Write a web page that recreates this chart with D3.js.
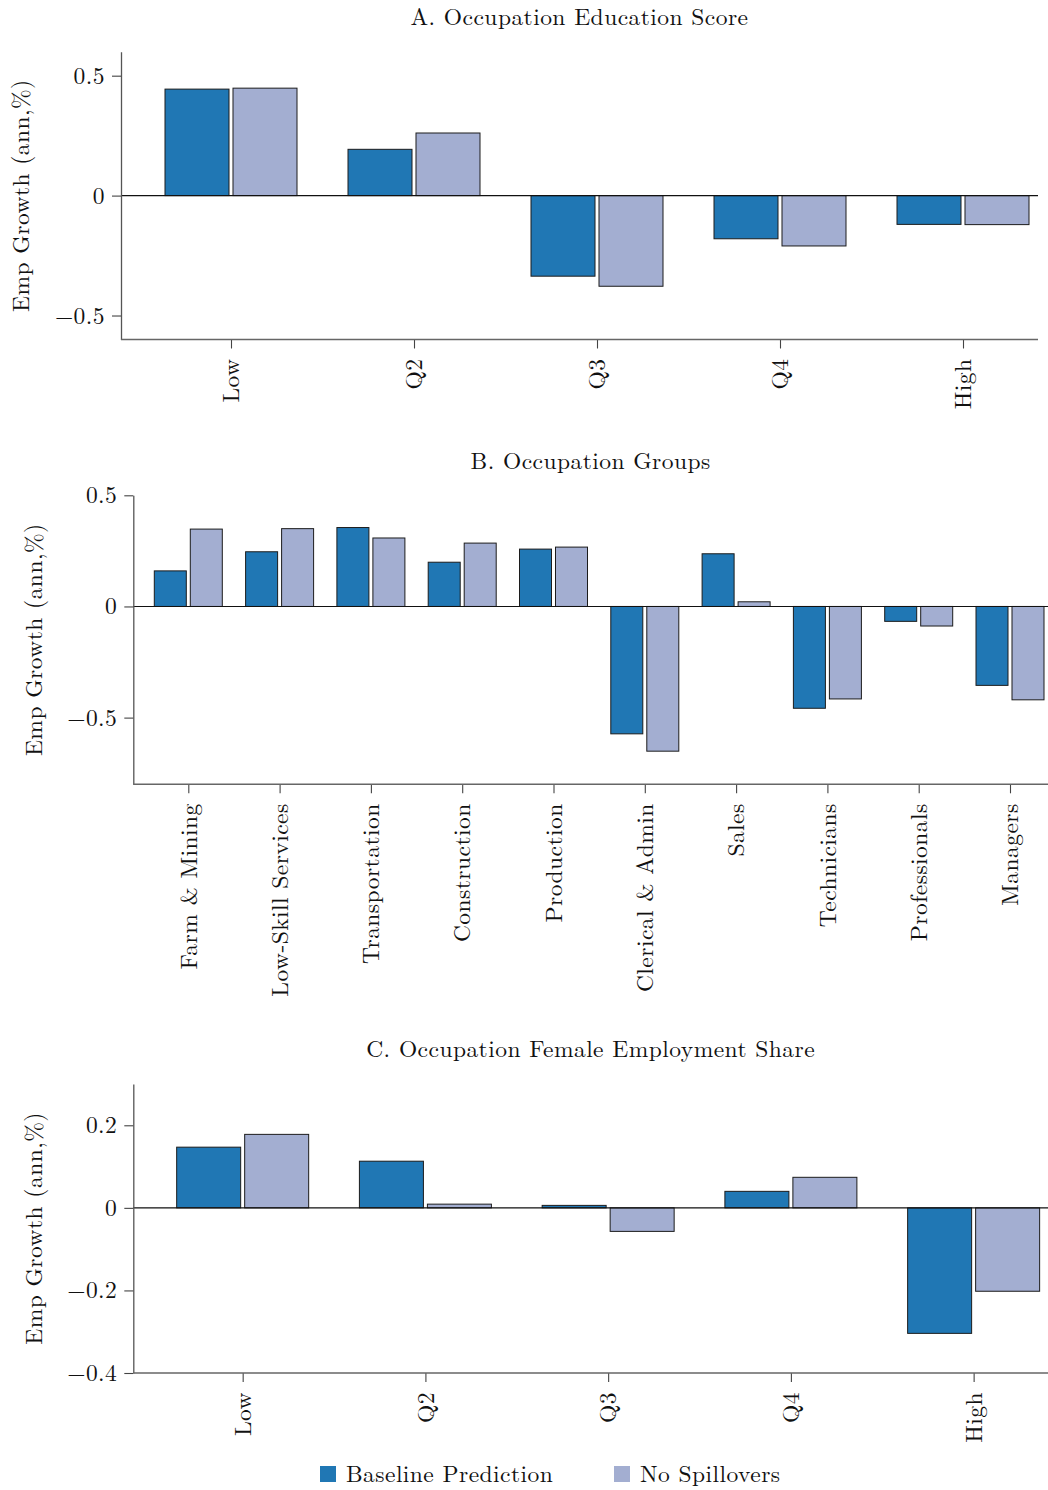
<!DOCTYPE html>
<html>
<head>
<meta charset="utf-8">
<script src="https://cdn.jsdelivr.net/npm/d3@7"></script>
<style>
  html, body { margin: 0; padding: 0; background: #fff; }
  svg text { font-family: "Latin Modern Roman", "CMU Serif", "Liberation Serif", serif; fill: #111; letter-spacing: 0.45px; }
</style>
</head>
<body>
<svg id="chart" width="1048" height="1490"></svg>
<script>
// Series shown in every panel
const seriesNames = ["Baseline Prediction", "No Spillovers"];
const seriesColors = ["#2077b4", "#a3aed1"];

// Panel A: occupation education score quintiles
const eduCats = ["Low", "Q2", "Q3", "Q4", "High"];
const eduBaseline = [0.444, 0.193, -0.336, -0.180, -0.120];
const eduNoSpill = [0.448, 0.261, -0.378, -0.210, -0.121];
const eduTicks = [-0.5, 0, 0.5];

// Panel B: broad occupation groups
const groupCats = ["Farm & Mining", "Low-Skill Services", "Transportation", "Construction",
  "Production", "Clerical & Admin", "Sales", "Technicians", "Professionals", "Managers"];
const groupBaseline = [0.160, 0.246, 0.355, 0.199, 0.258, -0.573, 0.237, -0.458, -0.067, -0.355];
const groupNoSpill = [0.348, 0.350, 0.308, 0.285, 0.267, -0.651, 0.021, -0.416, -0.088, -0.420];
const groupTicks = [-0.5, 0, 0.5];

// Panel C: occupation female employment share quintiles
const femCats = ["Low", "Q2", "Q3", "Q4", "High"];
const femBaseline = [0.147, 0.113, 0.006, 0.040, -0.304];
const femNoSpill = [0.178, 0.009, -0.057, 0.074, -0.202];
const femTicks = [-0.4, -0.2, 0, 0.2];

const FONT = 23.5;
const svg = d3.select("#chart");
const fmtTick = d => d === 0 ? "0" : d3.format(".1f")(d);

function drawPanel(p) {
  const g = svg.append("g");
  const rows = p.cats.map((c, i) => ({ cat: c, values: [p.base[i], p.nospill[i]] }));

  const x = d3.scaleBand().domain(p.cats).range(p.xRange).paddingInner(0).paddingOuter(0);
  const inner = d3.scaleBand().domain(seriesNames)
    .range([-p.half, p.half]).paddingInner(p.innerPad);
  const y = d3.scaleLinear().domain(p.yDomain).range([p.yBottom, p.yTop]);
  const cx = c => x(c) + x.bandwidth() / 2;

  // bars
  rows.forEach(r => {
    r.values.forEach((v, k) => {
      g.append("rect")
        .attr("x", cx(r.cat) + inner(seriesNames[k]))
        .attr("width", inner.bandwidth())
        .attr("y", y(Math.max(0, v)))
        .attr("height", Math.abs(y(v) - y(0)))
        .attr("fill", seriesColors[k])
        .attr("stroke", "#1c1c1c")
        .attr("stroke-width", 1);
    });
  });

  // zero reference line
  g.append("line")
    .attr("x1", p.axisX).attr("x2", p.axisRight)
    .attr("y1", y(0)).attr("y2", y(0))
    .attr("stroke", "#111").attr("stroke-width", 1.1);

  // y axis
  const yAxis = g.append("g")
    .attr("transform", `translate(${p.axisX},0)`)
    .call(d3.axisLeft(y).tickValues(p.yTicks).tickFormat(fmtTick).tickSize(9).tickPadding(7).tickSizeOuter(0));
  yAxis.select(".domain").attr("stroke", "#555").attr("stroke-width", 1.3);
  yAxis.selectAll(".tick line").attr("stroke", "#444").attr("stroke-width", 1.1);
  yAxis.selectAll(".tick text").style("font-size", FONT + "px").attr("fill", "#111");

  // x axis
  const xAxisScale = d3.scalePoint().domain(p.cats)
    .range([cx(p.cats[0]), cx(p.cats[p.cats.length - 1])]);
  const xAxis = g.append("g")
    .attr("transform", `translate(0,${p.yBottom})`)
    .call(d3.axisBottom(xAxisScale).tickSize(9).tickSizeOuter(0));
  xAxis.select(".domain").remove();
  xAxis.append("line")
    .attr("x1", p.axisX).attr("x2", p.axisRight).attr("y1", 0).attr("y2", 0)
    .attr("stroke", "#666").attr("stroke-width", 1.4);
  xAxis.selectAll(".tick line").attr("stroke", "#444").attr("stroke-width", 1.1);
  xAxis.selectAll(".tick text")
    .style("font-size", FONT + "px")
    .attr("fill", "#111")
    .attr("transform", "rotate(-90)")
    .attr("x", -19).attr("y", 0).attr("dy", "0.33em")
    .style("text-anchor", "end");

  // panel title
  g.append("text")
    .attr("x", (p.axisX + p.axisRight) / 2).attr("y", p.titleY)
    .attr("text-anchor", "middle").style("font-size", FONT + "px")
    .text(p.title);

  // y label
  g.append("text")
    .attr("transform", `translate(${p.ylabelX},${(p.yTop + p.yBottom) / 2}) rotate(-90)`)
    .attr("text-anchor", "middle").style("font-size", FONT + "px")
    .text("Emp Growth (ann,%)");
}

drawPanel({
  title: "A. Occupation Education Score",
  cats: eduCats, base: eduBaseline, nospill: eduNoSpill,
  yDomain: [-0.6, 0.6], yTicks: eduTicks, yTop: 51.7, yBottom: 339.5,
  xRange: [139.5, 1054.5], half: 66, innerPad: 0.0588,
  axisX: 121, axisRight: 1038, titleY: 25, ylabelX: 29
});

drawPanel({
  title: "B. Occupation Groups",
  cats: groupCats, base: groupBaseline, nospill: groupNoSpill,
  yDomain: [-0.8, 0.5], yTicks: groupTicks, yTop: 495.3, yBottom: 784.3,
  xRange: [142.65, 1055.65], half: 34, innerPad: 0.111,
  axisX: 133.3, axisRight: 1048, titleY: 469, ylabelX: 42
});

drawPanel({
  title: "C. Occupation Female Employment Share",
  cats: femCats, base: femBaseline, nospill: femNoSpill,
  yDomain: [-0.4, 0.3], yTicks: femTicks, yTop: 1084, yBottom: 1373,
  xRange: [151.3, 1065], half: 66, innerPad: 0.0588,
  axisX: 133.3, axisRight: 1048, titleY: 1057, ylabelX: 42
});

// legend
const legend = svg.append("g");
const legendX = [320, 614];
seriesNames.forEach((name, k) => {
  legend.append("rect")
    .attr("x", legendX[k]).attr("y", 1466).attr("width", 16).attr("height", 16)
    .attr("fill", seriesColors[k]);
  legend.append("text")
    .attr("x", legendX[k] + 26).attr("y", 1482)
    .style("font-size", FONT + "px")
    .text(name);
});
</script>
</body>
</html>
